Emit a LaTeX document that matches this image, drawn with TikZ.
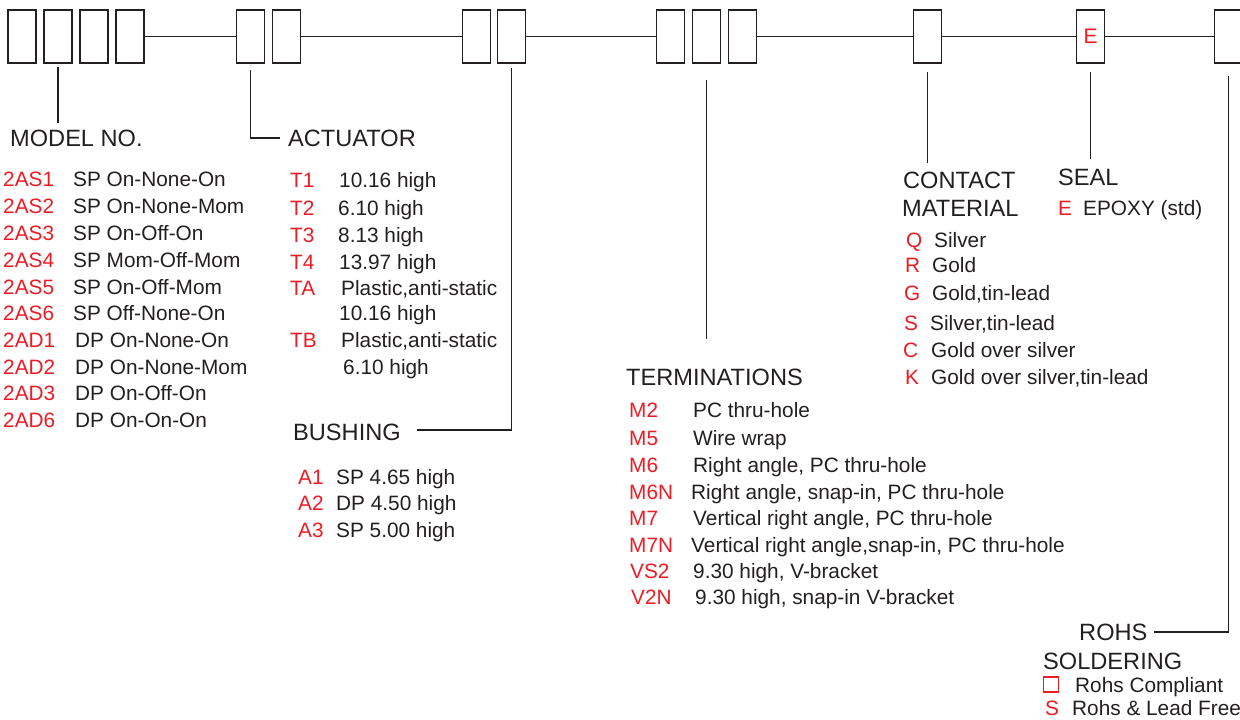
\documentclass[tikz,border=0pt]{standalone}
\usepackage{fontspec}
\setmainfont{Liberation Sans}
\usepackage{tikz}
\usetikzlibrary{positioning}
\usetikzlibrary{calc}
\definecolor{ink}{RGB}{35,31,32}
\definecolor{codered}{RGB}{237,28,36}
\tikzstyle{digit} = [rectangle, draw=ink, line width=1.9pt, minimum width=28pt, minimum height=53pt, inner sep=0pt, outer sep=0pt]
\tikzstyle{lead} = [draw=ink, line width=1.9pt]
\tikzstyle{head} = [anchor=west, inner sep=0pt, text=ink, font=\fontsize{23.6}{28}\selectfont, text height=16.9pt, text depth=0pt]
\tikzstyle{code} = [anchor=west, inner sep=0pt, text=codered, font=\fontsize{20.8}{24}\selectfont, text height=14.9pt, text depth=0pt]
\tikzstyle{desc} = [anchor=west, inner sep=0pt, text=ink, font=\fontsize{20.8}{24}\selectfont, text height=14.9pt, text depth=0pt]

\begin{document}
\begin{tikzpicture}[x=1pt,y=-1pt]
		\useasboundingbox (0,0) rectangle (1240,720);

		% part number boxes
		\node [digit] (b1) at (22,36.5) {};
		\node [digit,right=8pt of b1] (b2) {};
		\node [digit,right=8pt of b2] (b3) {};
		\node [digit,right=8pt of b3] (b4) {};
		\node [digit] (b5) at (250.5,36.5) {};
		\node [digit,right=8pt of b5] (b6) {};
		\node [digit] (b7) at (476.5,36.5) {};
		\node [digit,right=7pt of b7] (b8) {};
		\node [digit] (b9) at (670.5,36.5) {};
		\node [digit,right=8pt of b9] (b10) {};
		\node [digit,right=8pt of b10] (b11) {};
		\node [digit] (b12) at (927.5,36.5) {};
		\node [digit,text=codered,font=\fontsize{21}{24}\selectfont] (b13) at (1090.5,36.5) {E};
		\node [digit] (b14) at (1228.5,36.5) {};

		\draw[lead] (b4.east) -- (b5.west);
		\draw[lead] (b6.east) -- (b7.west);
		\draw[lead] (b8.east) -- (b9.west);
		\draw[lead] (b11.east) -- (b12.west);
		\draw[lead] (b12.east) -- (b13.west);
		\draw[lead] (b13.east) -- (b14.west);

		% model no.
		\node [head] (model) at (10,138) {MODEL NO.};
		\node [code] (m1) at (3,179) {2AS1};
		\node [desc] (md1) at (73,179) {SP On-None-On};
		\node [code] (m2) at (3,206) {2AS2};
		\node [desc] (md2) at (73,206) {SP On-None-Mom};
		\node [code] (m3) at (3,233) {2AS3};
		\node [desc] (md3) at (73,233) {SP On-Off-On};
		\node [code] (m4) at (3,260) {2AS4};
		\node [desc] (md4) at (73,260) {SP Mom-Off-Mom};
		\node [code] (m5) at (3,287) {2AS5};
		\node [desc] (md5) at (73,287) {SP On-Off-Mom};
		\node [code] (m6) at (3,313) {2AS6};
		\node [desc] (md6) at (73,313) {SP Off-None-On};
		\node [code] (m7) at (3,340) {2AD1};
		\node [desc] (md7) at (75,340) {DP On-None-On};
		\node [code] (m8) at (3,367) {2AD2};
		\node [desc] (md8) at (75,367) {DP On-None-Mom};
		\node [code] (m9) at (3,393) {2AD3};
		\node [desc] (md9) at (75,393) {DP On-Off-On};
		\node [code] (m10) at (3,420) {2AD6};
		\node [desc] (md10) at (75,420) {DP On-On-On};

		% actuator
		\node [head] (act) at (288,138) {ACTUATOR};
		\node [code] (t1) at (290,180) {T1};
		\node [desc] (td1) at (339,180) {10.16 high};
		\node [code] (t2) at (290,208) {T2};
		\node [desc] (td2) at (338,208) {6.10 high};
		\node [code] (t3) at (290,235) {T3};
		\node [desc] (td3) at (338,235) {8.13 high};
		\node [code] (t4) at (290,262) {T4};
		\node [desc] (td4) at (339,262) {13.97 high};
		\node [code] (ta) at (290,288) {TA};
		\node [desc] (tda) at (341,288) {Plastic,anti-static};
		\node [desc] (tda2) at (339,313) {10.16 high};
		\node [code] (tb) at (290,340) {TB};
		\node [desc] (tdb) at (341,340) {Plastic,anti-static};
		\node [desc] (tdb2) at (343,367) {6.10 high};

		% bushing
		\node [head] (bush) at (293,432) {BUSHING};
		\node [code] (a1) at (298,477) {A1};
		\node [desc] (ad1) at (336,477) {SP 4.65 high};
		\node [code] (a2) at (298,503) {A2};
		\node [desc] (ad2) at (336,503) {DP 4.50 high};
		\node [code] (a3) at (298,530) {A3};
		\node [desc] (ad3) at (336,530) {SP 5.00 high};

		% terminations
		\node [head] (term) at (626,377) {TERMINATIONS};
		\node [code] (e1) at (629,410) {M2};
		\node [desc] (ed1) at (693,410) {PC thru-hole};
		\node [code] (e2) at (629,438) {M5};
		\node [desc] (ed2) at (693,438) {Wire wrap};
		\node [code] (e3) at (629,465) {M6};
		\node [desc] (ed3) at (693,465) {Right angle, PC thru-hole};
		\node [code] (e4) at (629,492) {M6N};
		\node [desc] (ed4) at (691,492) {Right angle, snap-in, PC thru-hole};
		\node [code] (e5) at (629,518) {M7};
		\node [desc] (ed5) at (693,518) {Vertical right angle, PC thru-hole};
		\node [code] (e6) at (629,545) {M7N};
		\node [desc] (ed6) at (691,545) {Vertical right angle,snap-in, PC thru-hole};
		\node [code] (e7) at (630,571) {VS2};
		\node [desc] (ed7) at (693,571) {9.30 high, V-bracket};
		\node [code] (e8) at (631,597) {V2N};
		\node [desc] (ed8) at (695,597) {9.30 high, snap-in V-bracket};

		% contact material
		\node [head] (cont) at (903,180) {CONTACT};
		\node [head] (mat) at (902,208) {MATERIAL};
		\node [code] (c1) at (906,240) {Q};
		\node [desc] (cd1) at (934,240) {Silver};
		\node [code] (c2) at (905,265) {R};
		\node [desc] (cd2) at (932,265) {Gold};
		\node [code] (c3) at (904,293) {G};
		\node [desc] (cd3) at (932,293) {Gold,tin-lead};
		\node [code] (c4) at (904,323) {S};
		\node [desc] (cd4) at (930,323) {Silver,tin-lead};
		\node [code] (c5) at (903,350) {C};
		\node [desc] (cd5) at (931,350) {Gold over silver};
		\node [code] (c6) at (905,377) {K};
		\node [desc] (cd6) at (931,377) {Gold over silver,tin-lead};

		% seal
		\node [head] (seal) at (1058,177) {SEAL};
		\node [code] (s1) at (1058,208) {E};
		\node [desc] (sd1) at (1083,208) {EPOXY (std)};

		% rohs
		\node [head] (rohs) at (1079,632) {ROHS};
		\node [head] (sold) at (1043,661) {SOLDERING};
		\node [draw=codered, line width=1.5pt, minimum size=15pt, inner sep=0pt] (r1) at (1051,684.5) {};
		\node [desc] (rd1) at (1075,685) {Rohs Compliant};
		\node [code] (r2) at (1045,708) {S};
		\node [desc] (rd2) at (1072,708) {Rohs \& Lead Free};

		% leaders
		\draw[lead] ([yshift=-4pt]b2.south) -- ([yshift=6pt]b2.south |- model.north);
		\draw[lead] ([yshift=-7pt]b5.south) |- ([xshift=-8pt]act.west);
		\draw[lead] ([yshift=-5pt]b8.south) |- ([xshift=16pt,yshift=2pt]bush.east);
		\draw[lead] ([yshift=-17pt]b10.south) -- ([yshift=29pt]b10.south |- term.north);
		\draw[lead] ([yshift=-9pt]b12.south) -- ([yshift=8pt]b12.south |- cont.north);
		\draw[lead] ([yshift=-9pt]b13.south) -- ([yshift=9pt]b13.south |- seal.north);
		\draw[lead] ([yshift=-13pt]b14.south) |- ([xshift=6pt]rohs.east);

	\end{tikzpicture}
\end{document}
